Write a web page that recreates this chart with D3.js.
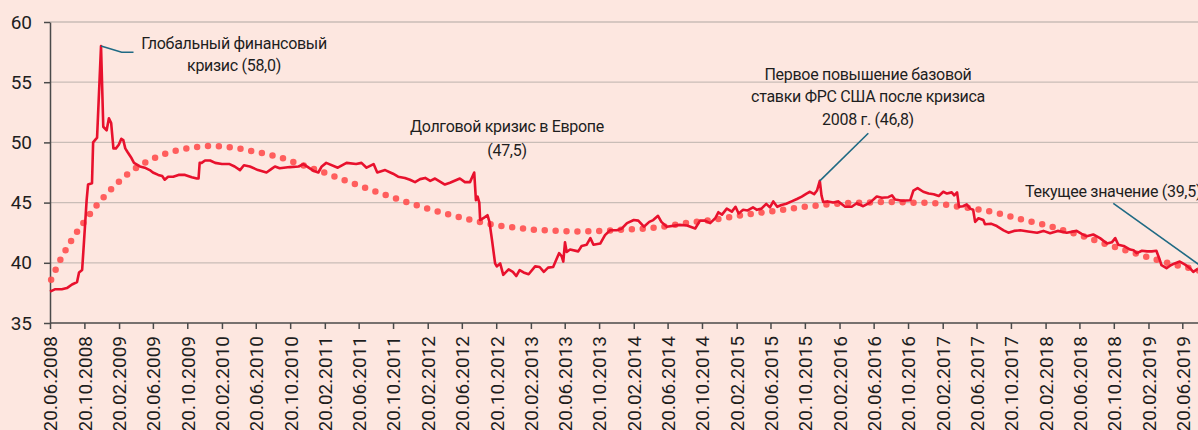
<!DOCTYPE html>
<html>
<head>
<meta charset="utf-8">
<script src="https://cdn.jsdelivr.net/npm/d3@7"></script>
<style>
  body { margin: 0; background: #fde7e0; }
  text { font-family: Roboto, "Liberation Sans", sans-serif; fill: #1e1e1e; }
</style>
</head>
<body>
<div id="chart"></div>
<script>
// weekly index (dd.mm.yyyy)
const dates = [
  "20.06.2008","07.07.2008","01.08.2008","19.08.2008","06.09.2008","24.09.2008","01.10.2008","12.10.2008","19.10.2008","28.10.2008","02.11.2008","16.11.2008","20.11.2008","04.12.2008","18.12.2008","26.12.2008",
  "07.01.2009","15.01.2009","23.01.2009","31.01.2009","09.02.2009","19.02.2009","28.02.2009","07.03.2009","14.03.2009","22.03.2009","05.04.2009","14.04.2009","05.05.2009","22.05.2009","09.06.2009","20.06.2009","09.07.2009","23.07.2009","01.08.2009","13.08.2009","31.08.2009","19.09.2009","12.10.2009","05.11.2009","23.11.2009","29.11.2009","03.12.2009","10.12.2009","22.12.2009",
  "09.01.2010","27.01.2010","20.02.2010","19.03.2010","06.04.2010","25.04.2010","09.05.2010","30.05.2010","28.06.2010","28.07.2010","15.08.2010","27.08.2010","13.09.2010","19.10.2010","19.11.2010","06.12.2010",
  "10.01.2011","28.01.2011","09.02.2011","25.02.2011","07.04.2011","08.05.2011","11.06.2011","30.06.2011","18.07.2011","12.08.2011","25.08.2011","22.09.2011","20.10.2011","07.11.2011","01.12.2011","19.12.2011",
  "06.01.2012","24.01.2012","11.02.2012","29.02.2012","17.03.2012","21.04.2012","09.05.2012","13.06.2012","01.07.2012","19.07.2012","03.08.2012","09.08.2012","15.08.2012","21.08.2012","24.08.2012","10.09.2012","19.09.2012","26.09.2012","05.10.2012","16.10.2012","22.10.2012","03.11.2012","14.11.2012","03.12.2012","18.12.2012","30.12.2012",
  "11.01.2013","25.01.2013","12.02.2013","07.03.2013","23.03.2013","07.04.2013","22.04.2013","10.05.2013","31.05.2013","09.06.2013","15.06.2013","21.06.2013","27.06.2013","09.07.2013","07.08.2013","19.08.2013","06.09.2013","19.09.2013","30.09.2013","24.10.2013","10.11.2013","28.11.2013","22.12.2013",
  "09.01.2014","27.01.2014","20.02.2014","08.03.2014","28.03.2014","16.04.2014","30.04.2014","17.05.2014","29.05.2014","17.06.2014","02.08.2014","28.08.2014","26.09.2014","13.10.2014","31.10.2014","18.11.2014","06.12.2014","17.12.2014","30.12.2014",
  "16.01.2015","03.02.2015","16.02.2015","27.02.2015","15.03.2015","31.03.2015","19.04.2015","03.05.2015","19.05.2015","05.06.2015","18.06.2015","30.06.2015","14.07.2015","29.07.2015","15.08.2015","03.09.2015","22.09.2015","09.10.2015","26.10.2015","07.11.2015","22.11.2015","02.12.2015","12.12.2015","18.12.2015","24.12.2015",
  "10.01.2016","28.01.2016","15.02.2016","11.03.2016","03.04.2016","21.04.2016","14.05.2016","07.06.2016","01.07.2016","19.07.2016","11.08.2016","24.08.2016","04.09.2016","29.09.2016","28.10.2016","08.11.2016","23.11.2016","13.12.2016",
  "01.01.2017","19.01.2017","06.02.2017","22.02.2017","07.03.2017","24.03.2017","02.04.2017","12.04.2017","19.04.2017","03.05.2017","16.05.2017","28.05.2017","08.06.2017","15.06.2017","27.06.2017","14.07.2017","20.07.2017","10.08.2017","31.08.2017","24.09.2017","11.10.2017","31.10.2017","22.11.2017","20.12.2017",
  "21.01.2018","12.02.2018","08.03.2018","04.04.2018","06.05.2018","10.06.2018","28.06.2018","16.07.2018","08.08.2018","01.09.2018","26.09.2018","13.10.2018","25.10.2018","05.11.2018","24.11.2018","17.12.2018","29.12.2018",
  "09.01.2019","28.01.2019","15.02.2019","04.03.2019","20.03.2019","01.04.2019","07.04.2019","25.04.2019","10.05.2019","24.05.2019","11.06.2019","30.06.2019","17.07.2019","29.07.2019","14.08.2019"
];
const values = [
  37.6, 37.8, 37.8, 37.9, 38.2, 38.4, 39.2, 39.4, 41.9, 45.2, 46.5, 46.6, 50.0, 50.4, 58.0, 51.3,
  51.0, 52.0, 51.6, 49.5, 49.5, 49.8, 50.3, 50.2, 49.5, 49.2, 48.7, 48.3, 48.0, 47.9, 47.7, 47.5, 47.3, 47.2, 46.9, 47.15, 47.15, 47.3, 47.3, 47.1, 47.0, 47.0, 48.3, 48.3, 48.5,
  48.5, 48.3, 48.2, 48.2, 48.0, 47.7, 48.1, 48.0, 47.7, 47.5, 47.8, 48.0, 47.85, 47.95, 48.0, 48.2,
  47.65, 47.5, 48.0, 48.3, 47.9, 48.3, 48.2, 48.3, 47.9, 48.2, 47.5, 47.7, 47.4, 47.15, 47.05, 46.9,
  46.7, 46.95, 47.05, 46.8, 47.0, 46.5, 46.65, 47.0, 46.7, 46.7, 47.5, 45.2, 45.5, 45.0, 43.55, 43.8, 43.95, 43.4, 41.9, 39.95, 39.7, 39.95, 39.0, 39.45, 39.25, 38.9,
  39.4, 39.2, 39.05, 39.7, 39.65, 39.25, 39.6, 39.65, 40.8, 40.55, 40.1, 41.7, 40.9, 41.1, 40.95, 41.4, 41.5, 42.05, 41.5, 41.6, 42.3, 42.7, 42.7,
  42.85, 43.3, 43.55, 43.5, 43.0, 43.4, 43.55, 43.9, 43.4, 43.0, 43.15, 43.1, 42.85, 43.5, 43.5, 43.3, 43.7, 44.2, 44.0,
  44.5, 44.25, 44.65, 44.1, 44.4, 44.35, 44.6, 44.4, 44.5, 44.9, 44.6, 45.1, 44.65, 44.8, 44.9, 45.1, 45.3, 45.5, 45.75, 45.9, 45.7, 46.0, 46.8, 45.6, 45.05,
  45.1, 45.0, 45.1, 44.65, 44.65, 44.95, 44.7, 45.0, 45.5, 45.4, 45.45, 45.6, 45.25, 45.15, 45.2, 46.0, 46.2, 45.9,
  45.75, 45.7, 45.55, 45.9, 45.75, 45.85, 45.6, 45.85, 44.65, 44.7, 44.85, 44.5, 44.4, 43.4, 43.7, 43.55, 43.2, 43.25, 43.05, 42.7, 42.5, 42.65, 42.7, 42.6,
  42.5, 42.65, 42.45, 42.65, 42.5, 42.65, 42.4, 42.2, 42.35, 42.05, 41.6, 41.7, 42.05, 41.5, 41.4, 41.1, 41.05,
  40.8, 41.0, 40.95, 40.95, 41.0, 40.25, 39.8, 39.55, 39.8, 39.95, 40.1, 39.85, 39.55, 39.25, 39.5
];

// smooth trend (dotted line)
const trendDates = [
  "24.06.2008","28.07.2008","05.09.2008","19.10.2008","07.12.2008","29.01.2009","27.03.2009","03.06.2009","15.08.2009","31.10.2009",
  "19.01.2010","06.04.2010","23.06.2010","07.09.2010","22.11.2010","06.02.2011","20.04.2011","04.07.2011","15.09.2011","29.11.2011",
  "13.02.2012","28.04.2012","14.07.2012","30.09.2012","17.12.2012","05.03.2013","22.05.2013","08.08.2013","27.10.2013","14.01.2014",
  "02.04.2014","20.06.2014","06.09.2014","24.11.2014","10.02.2015","28.04.2015","16.07.2015","03.10.2015","19.12.2015","09.03.2016",
  "26.05.2016","12.08.2016","31.10.2016","19.01.2017","06.04.2017","23.06.2017","08.09.2017","26.11.2017","09.02.2018","24.04.2018",
  "10.07.2018","22.09.2018","06.12.2018","21.02.2019","05.05.2019","17.07.2019","20.08.2019"
];
const trendValues = [
  38.6, 40.3, 41.9, 43.4, 44.9, 46.25, 47.45, 48.45, 49.15, 49.55,
  49.7, 49.55, 49.2, 48.8, 48.2, 47.6, 46.95, 46.3, 45.7, 45.1,
  44.55, 44.05, 43.6, 43.2, 42.95, 42.75, 42.65, 42.6, 42.65, 42.75,
  42.85, 43.05, 43.35, 43.55, 43.85, 44.1, 44.35, 44.6, 44.8, 44.95,
  45.0, 45.05, 45.0, 44.95, 44.7, 44.45, 44.1, 43.6, 43.2, 42.7,
  42.15, 41.55, 41.0, 40.45, 39.95, 39.55, 39.35
];

const tickLabels = [
  "20.06.2008","20.10.2008","20.02.2009","20.06.2009","20.10.2009","20.02.2010","20.06.2010","20.10.2010","20.02.2011",
  "20.06.2011","20.10.2011","20.02.2012","20.06.2012","20.10.2012","20.02.2013","20.06.2013","20.10.2013","20.02.2014",
  "20.06.2014","20.10.2014","20.02.2015","20.06.2015","20.10.2015","20.02.2016","20.06.2016","20.10.2016","20.02.2017",
  "20.06.2017","20.10.2017","20.02.2018","20.06.2018","20.10.2018","20.02.2019","20.06.2019"
];
const yTicks = [35, 40, 45, 50, 55, 60];

const w = 1198, h = 430;
const padLeft = 50, padTop = 22, axisY = 323;

const parse = d3.timeParse("%d.%m.%Y");
const series = dates.map((d, i) => ({ date: parse(d), value: values[i] }));
const trend = trendDates.map((d, i) => ({ date: parse(d), value: trendValues[i] }));
const tickDates = tickLabels.map(parse);

const x = d3.scaleTime()
  .domain([tickDates[0], tickDates[tickDates.length - 1]])
  .range([padLeft, 1182.3]);
const y = d3.scaleLinear().domain([35, 60]).range([axisY, padTop]);

const svg = d3.select("#chart").append("svg")
  .attr("width", w).attr("height", h);

svg.append("rect").attr("width", w).attr("height", h).attr("fill", "#fde7e0");

// gridlines
svg.append("g")
  .selectAll("line")
  .data(yTicks.filter(t => t > 35))
  .join("line")
  .attr("x1", padLeft).attr("x2", w)
  .attr("y1", d => y(d)).attr("y2", d => y(d))
  .attr("stroke", "#c9bdb7").attr("stroke-width", 1.3);

// x axis
const xAxis = svg.append("g")
  .attr("transform", "translate(0," + axisY + ")")
  .call(d3.axisBottom(x).tickValues(tickDates).tickFormat(d3.timeFormat("%d.%m.%Y")).tickSize(6).tickSizeOuter(0));
xAxis.select(".domain").attr("d", "M" + padLeft + ",0H" + w).attr("stroke", "#4a4a4a").attr("stroke-width", 1.5);
xAxis.selectAll(".tick line").attr("stroke", "#4a4a4a").attr("stroke-width", 1.5);
xAxis.selectAll(".tick text")
  .attr("transform", "rotate(-90)")
  .attr("x", -13).attr("y", 0).attr("dy", "0.36em")
  .style("text-anchor", "end")
  .style("font-size", "19px")
  .style("fill", "#1e1e1e");

// y axis
const yAxis = svg.append("g")
  .attr("transform", "translate(" + padLeft + ",0)")
  .call(d3.axisLeft(y).tickValues(yTicks).tickSize(6).tickPadding(12).tickSizeOuter(0));
yAxis.select(".domain").attr("stroke", "#4a4a4a").attr("stroke-width", 1.5);
yAxis.selectAll(".tick line").attr("stroke", "#4a4a4a").attr("stroke-width", 1.5);
yAxis.selectAll(".tick text").style("font-size", "19px").style("fill", "#1e1e1e");

// trend dots
svg.append("path")
  .datum(trend)
  .attr("fill", "none")
  .attr("stroke", "#ff4f4f")
  .attr("stroke-opacity", 0.9)
  .attr("stroke-width", 6.5)
  .attr("stroke-linecap", "round")
  .attr("stroke-dasharray", "0 10.9")
  .attr("d", d3.line().x(d => x(d.date)).y(d => y(d.value)).curve(d3.curveMonotoneX));

// main line
svg.append("path")
  .datum(series)
  .attr("fill", "none")
  .attr("stroke", "#e8112d")
  .attr("stroke-width", 2.6)
  .attr("stroke-linejoin", "round")
  .attr("d", d3.line().x(d => x(d.date)).y(d => y(d.value)));

// annotations
const leader = "#1f6a84";
const note = svg.append("g").style("font-size", "16px").style("letter-spacing", "-0.3px");

// global financial crisis
svg.append("polyline")
  .attr("points", [[x(parse("18.12.2008")), y(58.0)], [121.7, 52.3], [133.5, 52.3]].join(" "))
  .attr("fill", "none").attr("stroke", leader).attr("stroke-width", 1.6);
note.append("text").attr("x", 234).attr("y", 49).attr("text-anchor", "middle").text("Глобальный финансовый");
note.append("text").attr("x", 234).attr("y", 71).attr("text-anchor", "middle").text("кризис (58,0)");

// european debt crisis
note.append("text").attr("x", 507).attr("y", 132).attr("text-anchor", "middle").text("Долговой кризис в Европе");
note.append("text").attr("x", 507).attr("y", 156).attr("text-anchor", "middle").text("(47,5)");

// first fed hike
svg.append("line")
  .attr("x1", 868.3).attr("y1", 133.3)
  .attr("x2", x(parse("12.12.2015"))).attr("y2", y(46.8))
  .attr("stroke", leader).attr("stroke-width", 1.6);
note.append("text").attr("x", 868).attr("y", 80).attr("text-anchor", "middle").text("Первое повышение базовой");
note.append("text").attr("x", 868).attr("y", 102).attr("text-anchor", "middle").text("ставки ФРС США после кризиса");
note.append("text").attr("x", 868).attr("y", 125).attr("text-anchor", "middle").text("2008 г. (46,8)");

// current value (runs past the right edge, as in the source)
svg.append("line")
  .attr("x1", 1113.3).attr("y1", 203.3)
  .attr("x2", x(parse("08.09.2019"))).attr("y2", y(39.5))
  .attr("stroke", leader).attr("stroke-width", 1.6);
note.append("text").attr("x", 1025).attr("y", 196.5).text("Текущее значение (39,5)");
</script>
</body>
</html>
